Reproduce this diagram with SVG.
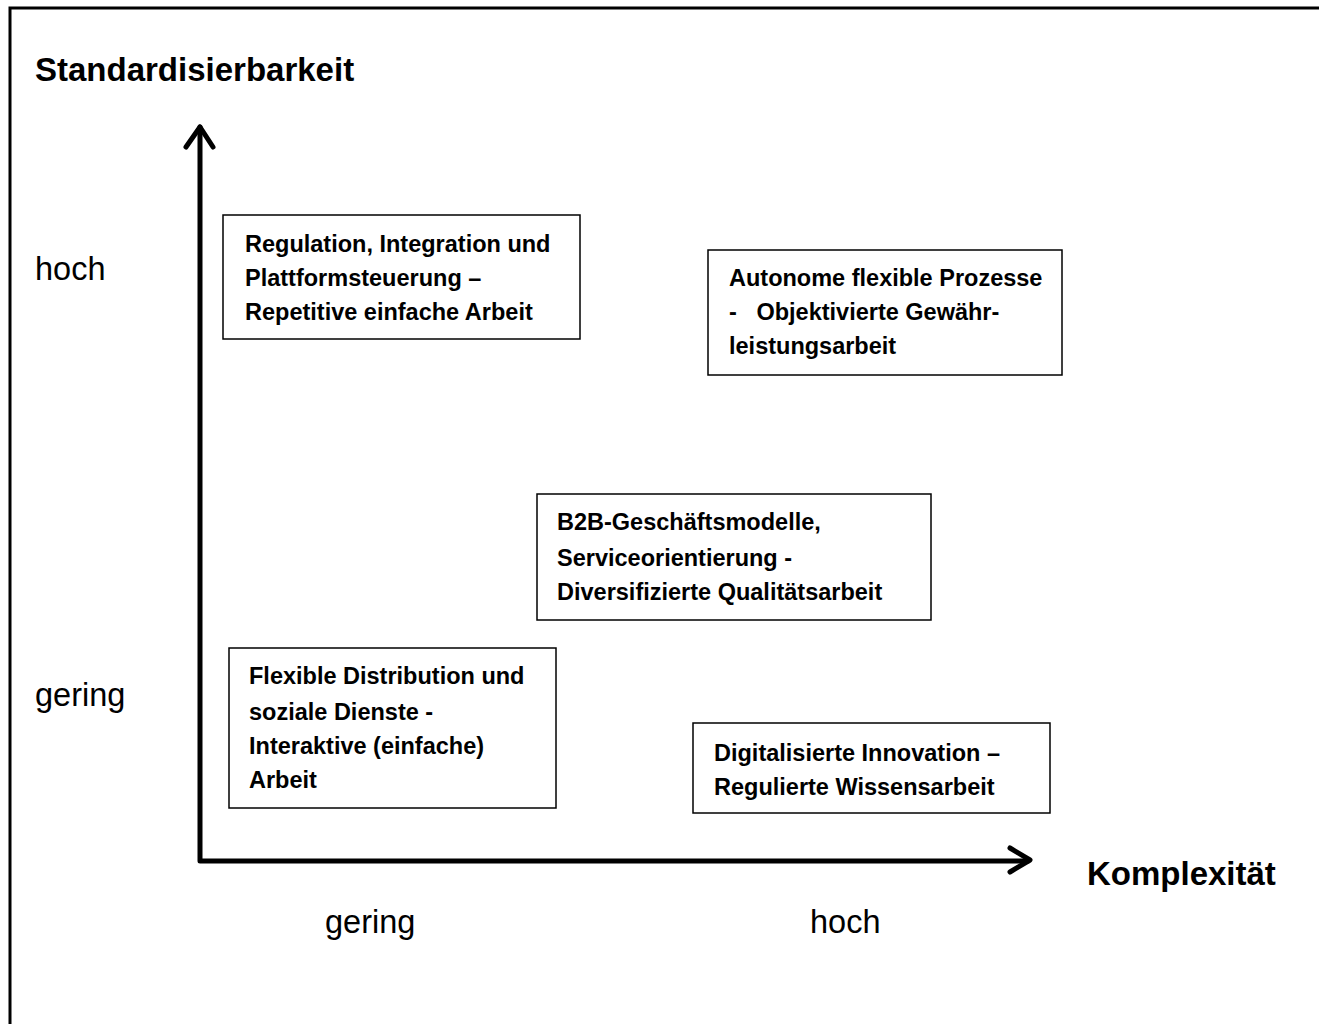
<svg xmlns="http://www.w3.org/2000/svg" width="1319" height="1024" viewBox="0 0 1319 1024">
<style>
.b{font-family:"Liberation Sans",Arial,sans-serif;font-weight:bold;font-size:23.5px;fill:#000}
.t{font-family:"Liberation Sans",Arial,sans-serif;font-weight:bold;font-size:33px;fill:#000}
.r{font-family:"Liberation Sans",Arial,sans-serif;font-size:32.5px;fill:#000}
.box{fill:#fff;stroke:#000;stroke-width:1.5}
.ax{fill:none;stroke:#000;stroke-width:5;stroke-linecap:round;stroke-linejoin:round}
</style>
<rect width="1319" height="1024" fill="#fff"/>
<path d="M10,1024 V8 H1319" fill="none" stroke="#000" stroke-width="3"/>
<g id="connectors">
<path class="ax" d="M200,127 V861 H1028"/>
<path class="ax" d="M186,147 L200,127 L213,147"/>
<path class="ax" d="M1010,848 L1030,860 L1010,872"/>
</g>
<g id="labels">
<text class="t" x="35" y="81">Standardisierbarkeit</text>
<text class="t" x="1087" y="885">Komplexität</text>
<text class="r" x="35" y="280">hoch</text>
<text class="r" x="35" y="706">gering</text>
<text class="r" x="325" y="933">gering</text>
<text class="r" x="810" y="933">hoch</text>
</g>
<g id="node1">
<rect class="box" x="223" y="215" width="357" height="124"/>
<text class="b" x="245" y="252">Regulation, Integration und</text>
<text class="b" x="245" y="286">Plattformsteuerung –</text>
<text class="b" x="245" y="320">Repetitive einfache Arbeit</text>
</g>
<g id="node2">
<rect class="box" x="708" y="250" width="354" height="125"/>
<text class="b" x="729" y="286">Autonome flexible Prozesse</text>
<text class="b" x="729" y="320" xml:space="preserve">-   Objektivierte Gewähr-</text>
<text class="b" x="729" y="354">leistungsarbeit</text>
</g>
<g id="node3">
<rect class="box" x="537" y="494" width="394" height="126"/>
<text class="b" x="557" y="530">B2B-Geschäftsmodelle,</text>
<text class="b" x="557" y="566">Serviceorientierung -</text>
<text class="b" x="557" y="600">Diversifizierte Qualitätsarbeit</text>
</g>
<g id="node4">
<rect class="box" x="229" y="648" width="327" height="160"/>
<text class="b" x="249" y="684">Flexible Distribution und</text>
<text class="b" x="249" y="720">soziale Dienste -</text>
<text class="b" x="249" y="754">Interaktive (einfache)</text>
<text class="b" x="249" y="788">Arbeit</text>
</g>
<g id="node5">
<rect class="box" x="693" y="723" width="357" height="90"/>
<text class="b" x="714" y="761">Digitalisierte Innovation –</text>
<text class="b" x="714" y="795">Regulierte Wissensarbeit</text>
</g>
</svg>
